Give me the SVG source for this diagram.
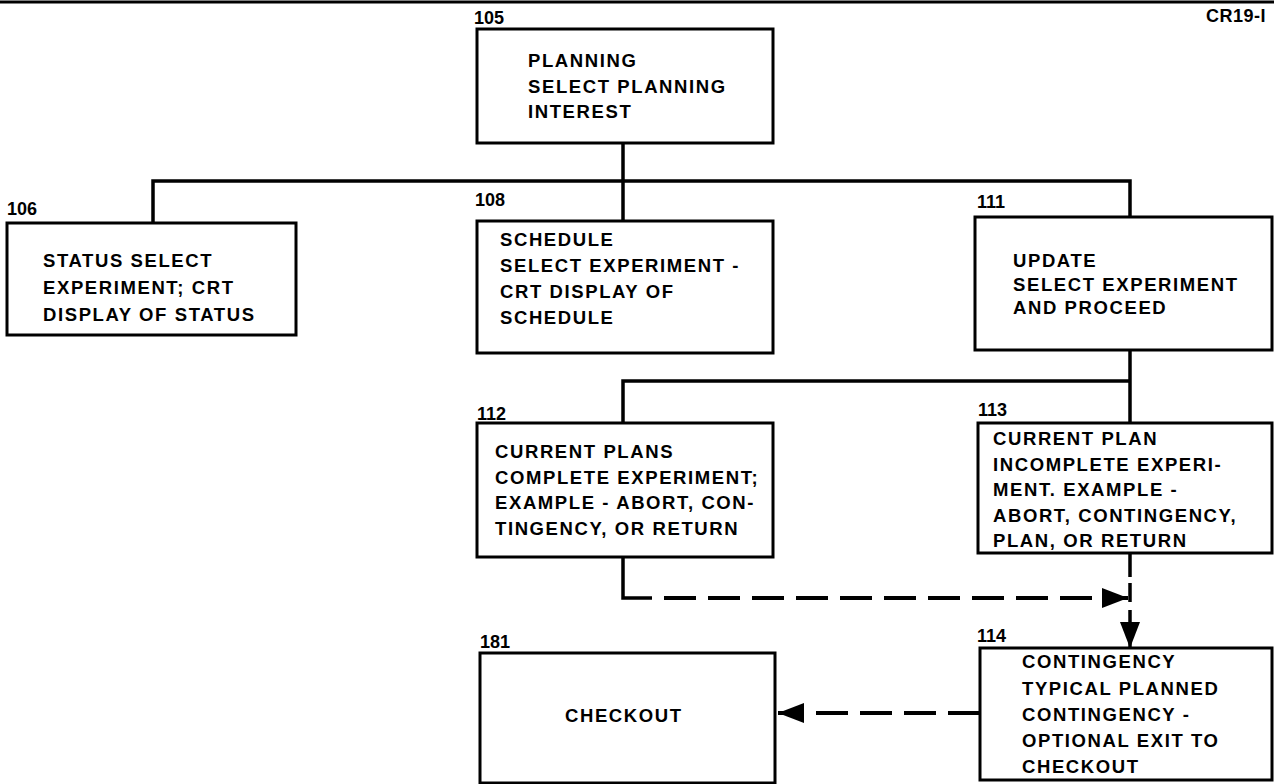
<svg xmlns="http://www.w3.org/2000/svg" width="1274" height="784" viewBox="0 0 1274 784">
<style>
.box{fill:#fff;stroke:#000;stroke-width:3}
.t{font-family:"Liberation Sans",Arial,sans-serif;font-weight:bold;font-size:18.5px;letter-spacing:1.6px;fill:#000}
.lbl{font-family:"Liberation Sans",Arial,sans-serif;font-weight:bold;font-size:18px;fill:#000}
.c{fill:none;stroke:#000;stroke-width:3.5}
.d{fill:none;stroke:#000;stroke-width:4;stroke-dasharray:32 12}
</style>
<defs>
<marker id="ah" viewBox="0 0 26 20" refX="26" refY="10" markerWidth="26" markerHeight="20" markerUnits="userSpaceOnUse" orient="auto">
<path d="M0,0 L26,10 L0,20 z" fill="#000"/>
</marker>
</defs>
<rect width="1274" height="784" fill="#fff"/>
<line x1="0" y1="2" x2="1274" y2="2" stroke="#000" stroke-width="3"/>
<text class="lbl" x="1206" y="22" style="letter-spacing:0.5px">CR19-I</text>

<g id="connectors">
<path class="c" d="M623,143 V221"/>
<path class="c" d="M153,223 V181 H1130 V217"/>
<path class="c" d="M1130,350 V423"/>
<path class="c" d="M623,423 V381 H1130"/>
<path class="c" d="M623,557 V598 H652"/>
<path class="d" d="M664,598 H1128" marker-end="url(#ah)"/>
<path class="c" d="M1130,553 V577 M1130,583 V602"/>
<path class="c" d="M1130,610 V648" marker-end="url(#ah)"/>
<path class="d" d="M980,713 H778" marker-end="url(#ah)"/>
</g>

<g id="n105">
<text class="lbl" x="474" y="24">105</text>
<rect class="box" x="477" y="29" width="296" height="114"/>
<text class="t" x="528" y="67">PLANNING</text>
<text class="t" x="528" y="93">SELECT PLANNING</text>
<text class="t" x="528" y="118">INTEREST</text>
</g>

<g id="n106">
<text class="lbl" x="7" y="215">106</text>
<rect class="box" x="7" y="223" width="289" height="112"/>
<text class="t" x="43" y="267">STATUS SELECT</text>
<text class="t" x="43" y="294">EXPERIMENT; CRT</text>
<text class="t" x="43" y="321">DISPLAY OF STATUS</text>
</g>

<g id="n108">
<text class="lbl" x="475" y="206">108</text>
<rect class="box" x="477" y="221" width="296" height="132"/>
<text class="t" x="500" y="246">SCHEDULE</text>
<text class="t" x="500" y="272">SELECT EXPERIMENT -</text>
<text class="t" x="500" y="298">CRT DISPLAY OF</text>
<text class="t" x="500" y="324">SCHEDULE</text>
</g>

<g id="n111">
<text class="lbl" x="977" y="208">111</text>
<rect class="box" x="975" y="217" width="297" height="133"/>
<text class="t" x="1013" y="267">UPDATE</text>
<text class="t" x="1013" y="291">SELECT EXPERIMENT</text>
<text class="t" x="1013" y="314">AND PROCEED</text>
</g>

<g id="n112">
<text class="lbl" x="477" y="420">112</text>
<rect class="box" x="477" y="423" width="296" height="134"/>
<text class="t" x="495" y="458">CURRENT PLANS</text>
<text class="t" x="495" y="484">COMPLETE EXPERIMENT;</text>
<text class="t" x="495" y="509">EXAMPLE - ABORT, CON-</text>
<text class="t" x="495" y="535">TINGENCY, OR RETURN</text>
</g>

<g id="n113">
<text class="lbl" x="978" y="416">113</text>
<rect class="box" x="978" y="423" width="294" height="130"/>
<text class="t" x="993" y="445">CURRENT PLAN</text>
<text class="t" x="993" y="471">INCOMPLETE EXPERI-</text>
<text class="t" x="993" y="496">MENT. EXAMPLE -</text>
<text class="t" x="993" y="522">ABORT, CONTINGENCY,</text>
<text class="t" x="993" y="547">PLAN, OR RETURN</text>
</g>

<g id="n181">
<text class="lbl" x="480" y="648">181</text>
<rect class="box" x="480" y="653" width="295" height="130"/>
<text class="t" x="565" y="722">CHECKOUT</text>
</g>

<g id="n114">
<text class="lbl" x="977" y="642">114</text>
<rect class="box" x="980" y="648" width="292" height="132"/>
<text class="t" x="1022" y="668">CONTINGENCY</text>
<text class="t" x="1022" y="695">TYPICAL PLANNED</text>
<text class="t" x="1022" y="721">CONTINGENCY -</text>
<text class="t" x="1022" y="747">OPTIONAL EXIT TO</text>
<text class="t" x="1022" y="773">CHECKOUT</text>
</g>
</svg>
